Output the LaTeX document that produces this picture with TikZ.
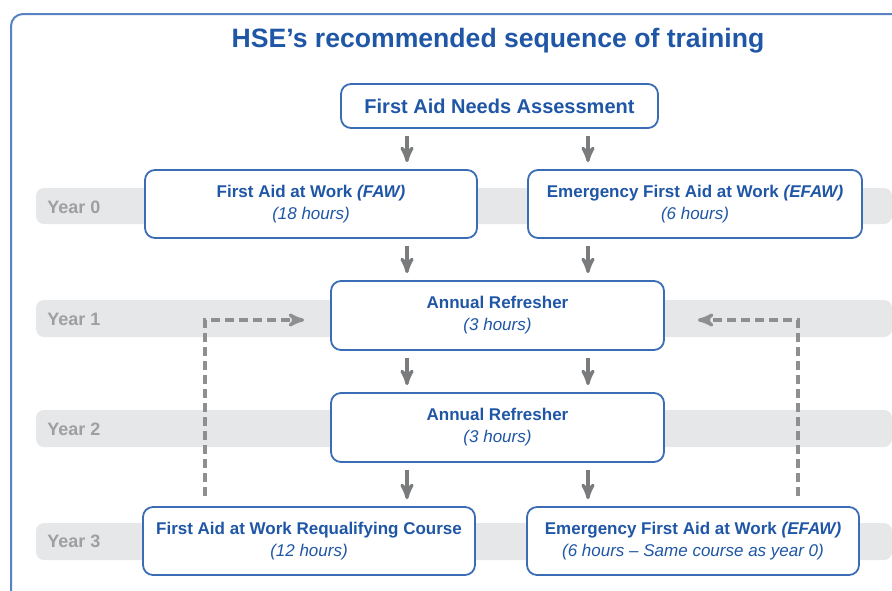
\documentclass[tikz,border=0pt]{standalone}
\usepackage{fontspec}
\setmainfont{Liberation Sans}
\usepackage{tikz}
\usetikzlibrary{arrows}

\definecolor{hseblue}{HTML}{1F56A6}
\definecolor{hseline}{HTML}{3A6DB5}
\definecolor{bandgray}{HTML}{E6E7E8}
\definecolor{yeargray}{HTML}{9E9FA1}
\definecolor{arrowgray}{HTML}{7A7B7D}

\newcommand{\hrs}[1]{{\mdseries\itshape #1}}

\tikzset{
  box/.style={draw=hseline, line width=0.9pt, rounded corners=5pt, fill=white,
              align=center, inner sep=0pt, text=hseblue,
              font=\fontsize{8.5}{11}\selectfont\bfseries},
  band/.style={fill=bandgray, rounded corners=4pt},
  yearlabel/.style={anchor=west, inner sep=0pt, text=yeargray,
                    font=\fontsize{9}{11}\selectfont\bfseries},
  flow/.style={arrowgray, line width=1.6pt, -stealth',
               shorten <=3.5pt, shorten >=3.5pt},
  back/.style={arrowgray!85, line width=1.6pt, -stealth',
               dash pattern=on 4.5pt off 2.5pt, shorten <=5pt},
}

\begin{document}
\begin{tikzpicture}[x=0.5pt, y=-0.5pt]

\useasboundingbox (0,0) rectangle (892,590);
\clip (0,0) rectangle (892,590);

% frame
\draw [hseline!85, line width=1pt, rounded corners=6pt] (11,14) rectangle (990,700);

% year bands
\fill [band] (36,188) rectangle (892,224);
\fill [band] (36,300) rectangle (892,337);
\fill [band] (36,410) rectangle (892,447);
\fill [band] (36,523) rectangle (892,560);

\node [yearlabel] (y0) at (47,207) {Year 0};
\node [yearlabel] (y1) at (47,319) {Year 1};
\node [yearlabel] (y2) at (47,429) {Year 2};
\node [yearlabel] (y3) at (47,541) {Year 3};

\node [text=hseblue, font=\fontsize{13.3}{15}\selectfont\bfseries] (title) at (498,41) {HSE’s recommended sequence of training};

\node [box, minimum width=158.5pt, minimum height=22pt, font=\fontsize{10}{12}\selectfont\bfseries] (needs) at (499.5,106) {First Aid Needs Assessment};

\node [box, minimum width=166pt, minimum height=34pt] (faw)   at (311,204)   {First Aid at Work \textit{(FAW)}\\ \hrs{(18 hours)}};
\node [box, minimum width=167pt, minimum height=34pt] (efaw)  at (695,204)   {Emergency First Aid at Work \textit{(EFAW)}\\ \hrs{(6 hours)}};
\node [box, minimum width=166.5pt, minimum height=34.5pt] (ref1) at (497.5,315.5) {Annual Refresher\\ \hrs{(3 hours)}};
\node [box, minimum width=166.5pt, minimum height=34.5pt] (ref2) at (497.5,427.5) {Annual Refresher\\ \hrs{(3 hours)}};
\node [box, minimum width=166pt, minimum height=34pt] (req)   at (309,541)   {First Aid at Work Requalifying Course\\ \hrs{(12 hours)}};
\node [box, minimum width=166pt, minimum height=34pt] (efaw3) at (693,541)   {Emergency First Aid at Work \textit{(EFAW)}\\ \hrs{(6 hours -- Same course as year 0)}};

\coordinate (lx) at (407,0);
\coordinate (rx) at (588,0);
\coordinate (lb) at (205,0);
\coordinate (rb) at (798,0);

\draw [flow] (needs.south -| lx) -- (faw.north -| lx);
\draw [flow] (needs.south -| rx) -- (efaw.north -| rx);
\draw [flow] (faw.south -| lx)   -- (ref1.north -| lx);
\draw [flow] (efaw.south -| rx)  -- (ref1.north -| rx);
\draw [flow] (ref1.south -| lx)  -- (ref2.north -| lx);
\draw [flow] (ref1.south -| rx)  -- (ref2.north -| rx);
\draw [flow] (ref2.south -| lx)  -- (req.north -| lx);
\draw [flow] (ref2.south -| rx)  -- (efaw3.north -| rx);

\draw [back, shorten >=13pt]   (req.north -| lb)   |- ([yshift=-2.25pt]ref1.west);
\draw [back, shorten >=16.5pt] (efaw3.north -| rb) |- ([yshift=-2.25pt]ref1.east);

\end{tikzpicture}
\end{document}
